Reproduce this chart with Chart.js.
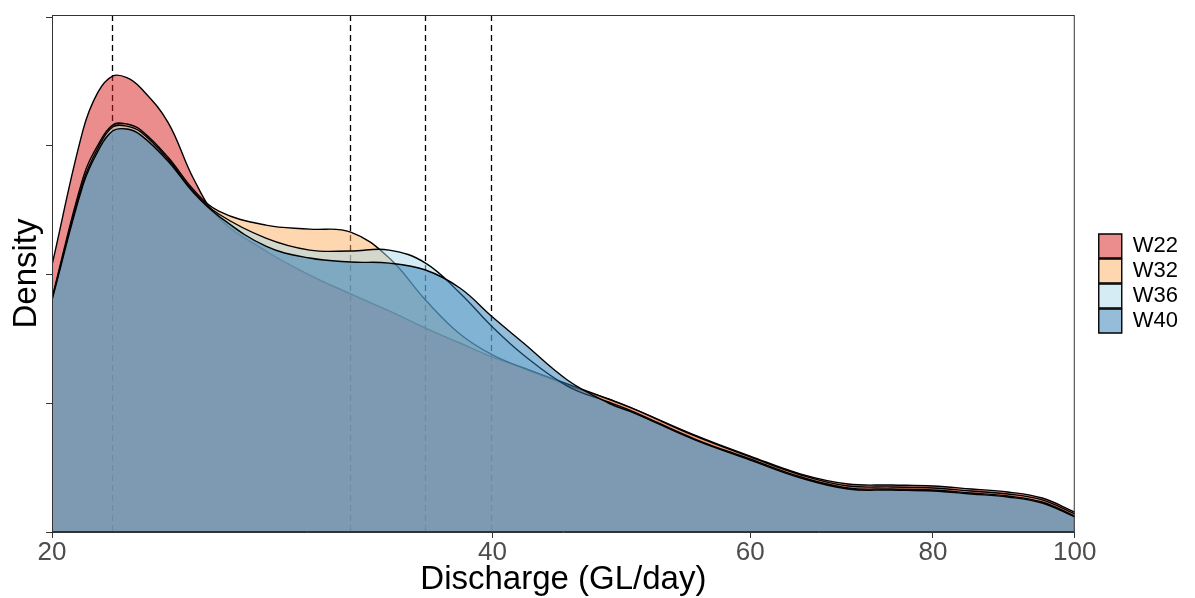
<!DOCTYPE html>
<html>
<head>
<meta charset="utf-8">
<script src="https://cdn.jsdelivr.net/npm/chart.js@4.4.1/dist/chart.umd.min.js"></script>
<style>
  html, body { margin: 0; padding: 0; background: #fff; }
  #wrap { width: 1195px; height: 598px; }
</style>
</head>
<body>
<div id="wrap"><canvas id="chart"></canvas></div>
<script>
// discharge (GL/day) where the densities are read
const discharge = [20, 21, 21.5, 22, 22.5, 23, 24, 25, 26, 28, 30, 32, 34, 36, 38, 40,
  42, 45, 48, 50, 55, 60, 65, 70, 75, 80, 85, 90, 95, 100];

// density per series (axis has no labels, so units are relative)
const w22 = [2.074, 3.122, 3.417, 3.542, 3.530, 3.449, 3.184, 2.740, 2.440, 2.183, 1.996, 1.849,
  1.717, 1.584, 1.468, 1.359, 1.274, 1.142, 1.033, 0.955, 0.753, 0.590, 0.450, 0.373, 0.365,
  0.357, 0.334, 0.311, 0.264, 0.155];
const w32 = [1.817, 2.750, 3.006, 3.161, 3.169, 3.122, 2.913, 2.656, 2.493, 2.384, 2.353, 2.330,
  2.128, 1.802, 1.538, 1.375, 1.274, 1.150, 1.033, 0.955, 0.746, 0.583, 0.443, 0.357, 0.350,
  0.342, 0.318, 0.295, 0.249, 0.140];
const w36 = [1.810, 2.718, 2.983, 3.146, 3.153, 3.107, 2.897, 2.641, 2.470, 2.283, 2.190, 2.183,
  2.190, 2.089, 1.856, 1.592, 1.375, 1.134, 1.010, 0.932, 0.722, 0.567, 0.427, 0.342, 0.334,
  0.326, 0.303, 0.280, 0.233, 0.124];
const w40 = [1.802, 2.695, 2.959, 3.115, 3.130, 3.083, 2.882, 2.633, 2.454, 2.221, 2.128, 2.097,
  2.089, 2.035, 1.895, 1.670, 1.468, 1.181, 1.002, 0.924, 0.715, 0.559, 0.419, 0.334, 0.326,
  0.318, 0.295, 0.272, 0.225, 0.117];

const seriesNames = ["W22", "W32", "W36", "W40"];
const seriesValues = [w22, w32, w36, w40];
const fills = ["rgba(215,25,28,0.5)", "rgba(253,174,97,0.5)", "rgba(171,217,233,0.5)", "rgba(44,123,182,0.5)"];

// dashed reference lines
const cutoffs = [22, 32, 36, 40];

const xTicks = [20, 40, 60, 80, 100];
const yTicks = [0, 1, 2, 3, 4];

const FONT = "'Liberation Sans', Arial, Helvetica, sans-serif";

const cutoffLines = {
  id: "cutoffLines",
  beforeDatasetsDraw(chart) {
    const { ctx, chartArea, scales } = chart;
    ctx.save();
    ctx.strokeStyle = "#000";
    ctx.lineWidth = 1.3;
    ctx.setLineDash([6, 4]);
    cutoffs.forEach((v) => {
      const x = Math.round(scales.x.getPixelForValue(v)) - 0.5;
      ctx.beginPath();
      ctx.moveTo(x, chartArea.top);
      ctx.lineTo(x, chartArea.bottom);
      ctx.stroke();
    });
    ctx.restore();
  },
};

const panelBorder = {
  id: "panelBorder",
  afterDatasetsDraw(chart) {
    const { ctx, chartArea } = chart;
    ctx.save();
    ctx.strokeStyle = "#333";
    ctx.lineWidth = 1;
    ctx.strokeRect(chartArea.left + 0.5, chartArea.top + 0.5,
      chartArea.right - chartArea.left - 1, chartArea.bottom - chartArea.top - 1);
    ctx.restore();
  },
};

// push the legend away from the panel, ggplot style
const legendShift = {
  id: "legendShift",
  afterLayout(chart) {
    const lg = chart.legend;
    lg.left += 23; lg.right += 23;
    lg.top -= 23; lg.bottom -= 23;
  },
};

new Chart(document.getElementById("chart"), {
  type: "line",
  data: {
    datasets: seriesNames.map((name, i) => ({
      label: name,
      data: discharge.map((x, j) => ({ x: x, y: seriesValues[i][j] })),
      backgroundColor: fills[i],
      borderColor: "#000",
      borderWidth: 1.4,
      pointRadius: 0,
      fill: "origin",
      tension: 0.4,
      order: seriesNames.length - i,
    })),
  },
  options: {
    responsive: true,
    maintainAspectRatio: false,
    animation: false,
    devicePixelRatio: 1,
    layout: { padding: { top: 15, right: 30, left: 0, bottom: 0 } },
    plugins: {
      tooltip: { enabled: false },
      legend: {
        position: "right",
        labels: {
          boxWidth: 23,
          boxHeight: 24,
          padding: 1,
          color: "#000",
          font: { family: FONT, size: 22, lineHeight: 1 },
          sort: (a, b) => a.datasetIndex - b.datasetIndex,
        },
      },
    },
    scales: {
      x: {
        type: "logarithmic",
        min: 20,
        max: 100,
        afterBuildTicks: (s) => { s.ticks = xTicks.map((v) => ({ value: v })); },
        afterFit: (s) => { s.height = 66; },
        grid: { display: true, drawOnChartArea: false, drawTicks: true, tickLength: 6, color: "#333" },
        border: { display: true, color: "#333" },
        ticks: {
          color: "#4D4D4D",
          font: { family: FONT, size: 26, lineHeight: 1 },
          padding: 2,
          maxRotation: 0,
          callback: (v) => String(v),
        },
        title: {
          display: true,
          text: "Discharge (GL/day)",
          color: "#000",
          font: { family: FONT, size: 33, lineHeight: 1.1 },
          padding: { top: 0, bottom: 0 },
        },
      },
      y: {
        min: 0,
        max: 4.016,
        afterBuildTicks: (s) => { s.ticks = yTicks.map((v) => ({ value: v })); },
        afterFit: (s) => { s.width = 52; },
        grid: { display: true, drawOnChartArea: false, drawTicks: true, tickLength: 6, color: "#333" },
        border: { display: true, color: "#333" },
        ticks: { display: false },
        title: {
          display: true,
          text: "Density",
          color: "#000",
          font: { family: FONT, size: 33, lineHeight: 1.1 },
          padding: { top: 9, bottom: 0 },
        },
      },
    },
  },
  plugins: [cutoffLines, panelBorder, legendShift],
});
</script>
</body>
</html>
